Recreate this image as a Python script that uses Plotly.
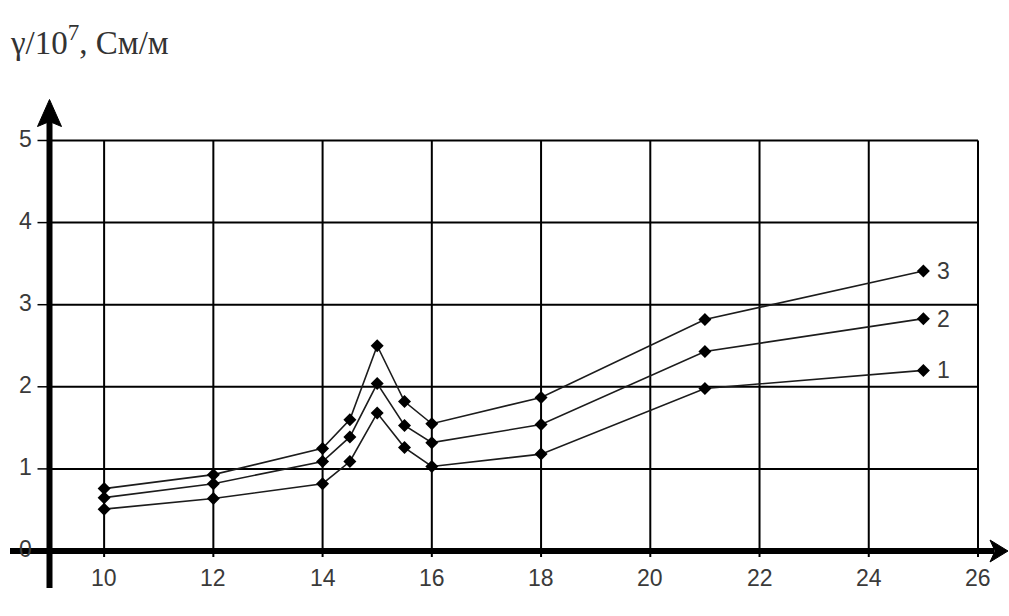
import plotly.graph_objects as go

# Conductivity γ (×10^7 S/m) against x for three samples
x_vals = [10, 12, 14, 14.5, 15, 15.5, 16, 18, 21, 25]
series_1 = [0.51, 0.64, 0.82, 1.09, 1.68, 1.26, 1.03, 1.18, 1.98, 2.20]
series_2 = [0.65, 0.82, 1.09, 1.39, 2.04, 1.53, 1.32, 1.54, 2.43, 2.83]
series_3 = [0.76, 0.93, 1.25, 1.60, 2.50, 1.82, 1.55, 1.87, 2.82, 3.41]
series_names = ["1", "2", "3"]

x_ticks = [10, 12, 14, 16, 18, 20, 22, 24, 26]
y_ticks = [0, 1, 2, 3, 4, 5]
axis_title = "γ/10<sup>7</sup>, См/м"

W, H = 1009, 616
# pixel anchors of the frame: y-axis at x=9, right edge at x=26, y=0 / y=5 rows
X_LEFT, PX_LEFT, X_RIGHT, PX_RIGHT = 9, 49.5, 26, 978
Y_LOW, PY_LOW, Y_HIGH, PY_HIGH = 0, 551, 5, 140.5
sx = (PX_RIGHT - PX_LEFT) / (X_RIGHT - X_LEFT)
sy = (PY_LOW - PY_HIGH) / (Y_HIGH - Y_LOW)
x_range = [X_LEFT - PX_LEFT / sx, X_RIGHT + (W - PX_RIGHT) / sx]
y_range = [Y_LOW - (H - PY_LOW) / sy, Y_HIGH + PY_HIGH / sy]


def dx(px):
    return px / sx


def dy(px):
    return px / sy


fig = go.Figure()

for ys, name in zip([series_1, series_2, series_3], series_names):
    fig.add_trace(go.Scatter(
        x=x_vals, y=ys, mode="lines+markers", name=name,
        line=dict(color="#1c1c1c", width=1.6),
        marker=dict(symbol="diamond", size=10, color="#000000"),
        showlegend=False, cliponaxis=False,
    ))

shapes = []
grid = dict(color="#000000", width=2)
# vertical grid lines (with a short stub under the axis)
for xv in x_ticks:
    shapes.append(dict(type="line", x0=xv, x1=xv, y0=Y_LOW - dy(6), y1=Y_HIGH,
                       xref="x", yref="y", line=grid, layer="below"))
# horizontal grid lines
for yv in y_ticks[1:]:
    shapes.append(dict(type="line", x0=X_LEFT, x1=X_RIGHT, y0=yv, y1=yv,
                       xref="x", yref="y", line=grid, layer="below"))
# small tick dashes left of the y-axis
for yv in y_ticks:
    shapes.append(dict(type="line", x0=X_LEFT - dx(12), x1=X_LEFT, y0=yv, y1=yv,
                       xref="x", yref="y", line=dict(color="#000", width=1.5),
                       layer="below"))

axis_line = dict(color="#000000", width=6)
# y-axis with arrow
shapes.append(dict(type="line", x0=X_LEFT, x1=X_LEFT, y0=Y_LOW - dy(37),
                   y1=Y_HIGH + dy(20), xref="x", yref="y", line=axis_line))
ya_tip, ya_base = Y_HIGH + dy(41), Y_HIGH + dy(14)
shapes.append(dict(type="path", xref="x", yref="y",
                   path=f"M {X_LEFT},{ya_tip} L {X_LEFT - dx(12)},{ya_base} "
                        f"L {X_LEFT},{ya_base + dy(5)} L {X_LEFT + dx(12)},{ya_base} Z",
                   fillcolor="#000", line=dict(color="#000", width=1)))
# x-axis with arrow
shapes.append(dict(type="line", x0=X_LEFT - dx(39.5), x1=X_RIGHT + dx(16),
                   y0=Y_LOW, y1=Y_LOW, xref="x", yref="y", line=axis_line))
xa_tip, xa_base = X_RIGHT + dx(30), X_RIGHT + dx(12)
shapes.append(dict(type="path", xref="x", yref="y",
                   path=f"M {xa_tip},{Y_LOW} L {xa_base},{Y_LOW + dy(11)} "
                        f"L {xa_base + dx(5)},{Y_LOW} L {xa_base},{Y_LOW - dy(11)} Z",
                   fillcolor="#000", line=dict(color="#000", width=1)))

annotations = []
tick_font = dict(family="Liberation Sans, Arial, sans-serif", size=23, color="#3a3a3a")
for xv in x_ticks:
    annotations.append(dict(x=xv, y=Y_LOW - dy(27), text=str(xv), showarrow=False,
                            xanchor="center", yanchor="middle", font=tick_font))
for yv in y_ticks:
    annotations.append(dict(x=X_LEFT - dx(24.5), y=yv + dy(2), text=str(yv),
                            showarrow=False, xanchor="center", yanchor="middle",
                            font=tick_font))
for ys, name in zip([series_1, series_2, series_3], series_names):
    annotations.append(dict(x=x_vals[-1], y=ys[-1], text=name, showarrow=False,
                            xanchor="left", yanchor="middle", xshift=12,
                            font=tick_font))
annotations.append(dict(x=8 / W, y=1 - 40 / H, xref="paper", yref="paper",
                        text=axis_title, showarrow=False, xanchor="left",
                        yanchor="middle",
                        font=dict(family="Liberation Serif, Times New Roman, serif",
                                  size=33, color="#333333")))

fig.update_layout(
    width=W, height=H,
    margin=dict(l=0, r=0, t=0, b=0),
    paper_bgcolor="#ffffff", plot_bgcolor="#ffffff",
    xaxis=dict(range=x_range, visible=False, fixedrange=True),
    yaxis=dict(range=y_range, visible=False, fixedrange=True),
    shapes=shapes, annotations=annotations,
)

fig.write_html("out.html")
